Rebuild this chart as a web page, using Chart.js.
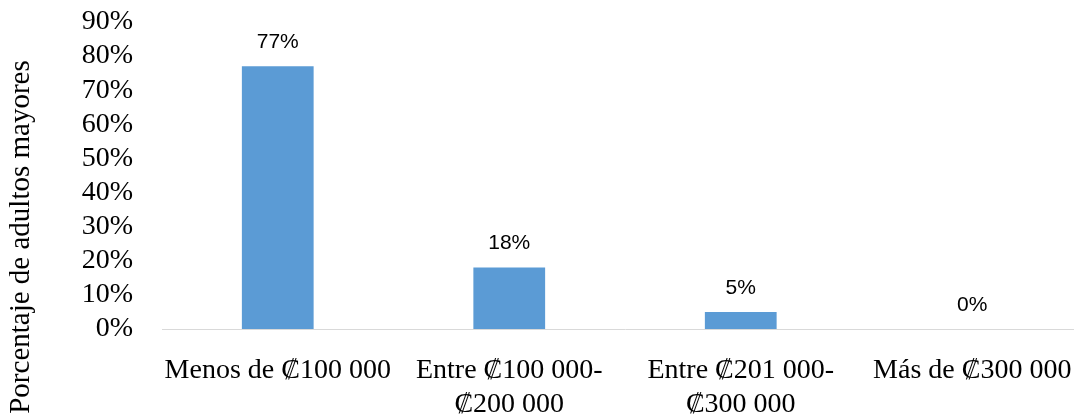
<!DOCTYPE html>
<html>
<head>
<meta charset="utf-8">
<script src="https://cdn.jsdelivr.net/npm/chart.js@4/dist/chart.umd.min.js"></script>
<style>
  html, body { margin: 0; padding: 0; background: #fff; overflow: hidden; }
  #wrap { position: relative; width: 1090px; height: 419px; }
</style>
</head>
<body>
<div id="wrap"><canvas id="chartjs-ingresos"></canvas></div>
<script>
const categorias = [
  "Menos de ₡100 000",
  ["Entre ₡100 000-", "₡200 000"],
  ["Entre ₡201 000-", "₡300 000"],
  "Más de ₡300 000",
];
const porcentajes = [77, 18, 5, 0];
const tituloY = "Porcentaje de adultos mayores";

const serif = "'Liberation Serif', 'Times New Roman', serif";

// etiquetas de valor encima de cada barra
const etiquetasValor = {
  id: "etiquetasValor",
  afterDatasetsDraw(chart) {
    const ctx = chart.ctx;
    const meta = chart.getDatasetMeta(0);
    ctx.save();
    ctx.font = "21px 'Liberation Sans', Arial, sans-serif";
    ctx.fillStyle = "#000";
    ctx.textAlign = "center";
    ctx.textBaseline = "middle";
    meta.data.forEach((bar, i) => {
      ctx.fillText(porcentajes[i] + "%", bar.x, bar.y - 24);
    });
    ctx.restore();
  },
};

// titulo del eje vertical, centrado en la altura del grafico
const tituloEje = {
  id: "tituloEje",
  afterDraw(chart) {
    const ctx = chart.ctx;
    ctx.save();
    ctx.font = "29px " + serif;
    ctx.fillStyle = "#000";
    ctx.textAlign = "center";
    ctx.textBaseline = "middle";
    ctx.translate(21, 237);
    ctx.rotate(-Math.PI / 2);
    ctx.fillText(tituloY, 0, 0);
    ctx.restore();
  },
};

new Chart(document.getElementById("chartjs-ingresos"), {
  type: "bar",
  data: {
    labels: categorias,
    datasets: [
      {
        data: porcentajes,
        backgroundColor: "#5b9bd5",
        borderWidth: 0,
        barPercentage: 0.31,
        categoryPercentage: 1,
      },
    ],
  },
  options: {
    responsive: true,
    maintainAspectRatio: false,
    animation: false,
    layout: { padding: { top: 22, right: 2, left: 0, bottom: 0 } },
    plugins: {
      legend: { display: false },
      tooltip: { enabled: false },
    },
    scales: {
      x: {
        grid: { display: false },
        border: { display: true, color: "#d9d9d9", width: 1 },
        ticks: {
          color: "#000",
          font: { family: serif, size: 28, lineHeight: 1.21 },
          padding: 17,
          maxRotation: 0,
          autoSkip: false,
        },
        afterFit(scale) {
          scale.height = 90;
        },
      },
      y: {
        min: 0,
        max: 90,
        grid: { display: false, drawTicks: false },
        border: { display: false },
        ticks: {
          stepSize: 10,
          autoSkip: false,
          color: "#000",
          padding: 29,
          font: { family: serif, size: 28 },
          callback: (v) => v + "%",
        },
        afterFit(scale) {
          scale.width = 162;
          scale.paddingTop = 0;
          scale.paddingBottom = 0;
        },
      },
    },
  },
  plugins: [etiquetasValor, tituloEje],
});
</script>
</body>
</html>
